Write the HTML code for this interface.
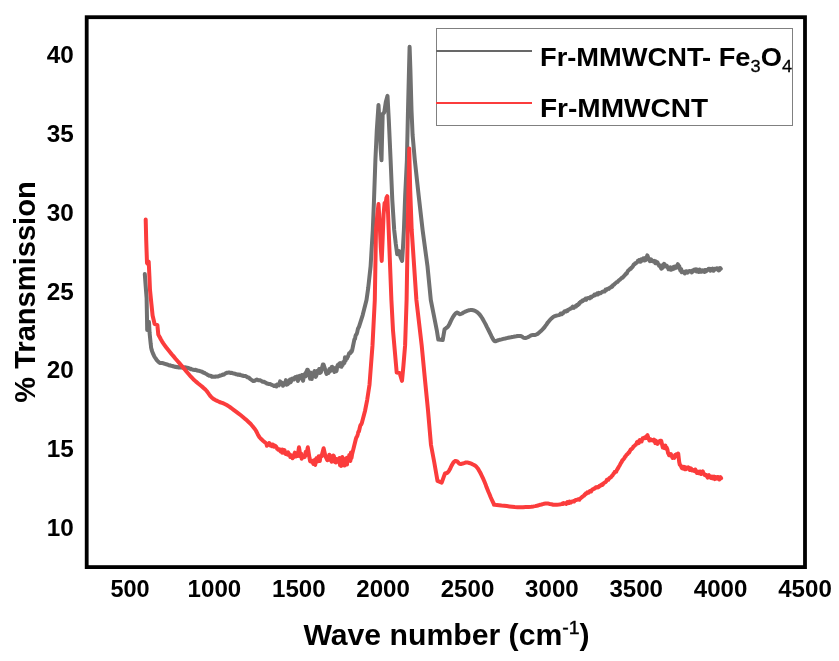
<!DOCTYPE html>
<html><head><meta charset="utf-8"><title>FTIR</title>
<style>html,body{margin:0;padding:0;background:#fff}svg{display:block;will-change:transform}text{font-family:"Liberation Sans",Arial,Helvetica,sans-serif;font-weight:bold;fill:#000}</style>
</head><body>
<svg width="839" height="661" viewBox="0 0 839 661">
<rect width="839" height="661" fill="#fff"/>
<rect x="86.7" y="17.2" width="718.3" height="549.9" fill="none" stroke="#000" stroke-width="3.8"/>
<path d="M144.8,274.0 L145.6,285.0 L146.6,298.0 L147.0,318.0 L147.2,330.0 L148.0,327.0 L149.0,322.0 L149.6,333.0 L150.6,343.0 L150.7,343.9 L150.9,345.3 L151.0,346.8 L151.3,348.5 L151.7,350.0 L152.2,351.5 L152.8,353.1 L153.5,354.7 L154.2,356.2 L155.0,357.5 L155.8,358.7 L156.6,359.9 L157.5,360.9 L158.4,361.8 L159.2,362.5 L160.0,362.9 L160.7,363.0 L161.4,363.0 L162.2,363.1 L163.0,363.2 L163.9,363.5 L164.9,363.8 L165.9,364.2 L166.5,364.3 L167.0,364.6 L167.7,364.5 L168.3,365.0 L169.0,365.3 L169.8,365.4 L170.3,365.3 L170.9,365.8 L171.4,365.9 L172.0,366.0 L172.6,365.9 L173.2,366.4 L173.8,366.6 L174.4,366.4 L175.0,366.9 L175.6,366.9 L176.1,366.7 L176.7,367.2 L177.3,366.9 L177.8,367.2 L178.4,367.4 L178.9,367.6 L179.5,367.1 L180.0,367.4 L180.6,367.1 L181.1,367.4 L181.7,367.3 L182.2,367.7 L182.8,367.4 L183.3,367.3 L183.9,367.3 L184.4,367.8 L185.0,367.5 L185.6,367.2 L186.1,368.0 L186.7,367.8 L187.2,367.8 L187.8,367.8 L188.3,368.3 L188.9,368.1 L189.4,368.4 L190.0,368.7 L190.5,369.2 L191.1,368.8 L191.6,369.2 L192.2,369.5 L192.7,369.7 L193.3,369.7 L193.9,369.7 L194.4,370.0 L195.0,370.1 L195.5,369.8 L196.1,369.9 L196.7,370.4 L197.2,370.3 L197.8,370.8 L198.3,370.8 L198.9,370.8 L199.5,370.9 L200.0,371.2 L200.6,371.4 L201.1,371.5 L201.7,371.7 L202.3,371.8 L202.8,372.4 L203.4,372.4 L204.0,372.9 L204.6,372.8 L205.1,373.3 L205.7,373.7 L206.3,374.0 L206.9,374.3 L207.7,375.0 L208.5,375.2 L209.3,375.7 L210.0,375.8 L210.6,375.8 L211.3,376.2 L211.9,376.8 L212.4,376.5 L213.5,376.7 L214.6,376.8 L215.2,376.4 L215.8,376.7 L216.5,376.5 L217.2,376.5 L218.0,376.5 L218.8,376.1 L219.6,375.6 L220.4,375.7 L221.2,375.4 L221.9,375.2 L222.6,374.6 L223.3,374.7 L223.9,374.6 L224.4,374.2 L225.3,373.6 L226.2,373.1 L227.1,372.7 L227.7,372.8 L228.3,372.5 L229.0,372.6 L229.7,372.6 L230.5,373.0 L231.3,372.9 L231.9,372.8 L232.5,373.3 L233.1,373.3 L233.7,373.5 L234.3,373.7 L234.9,373.7 L235.5,373.9 L236.1,374.3 L236.7,374.2 L237.4,374.7 L238.0,374.5 L238.7,374.6 L239.4,374.9 L240.0,374.6 L240.7,375.1 L241.5,375.4 L242.2,375.5 L242.9,375.5 L243.5,376.1 L244.2,376.1 L244.9,376.1 L245.5,376.1 L246.1,376.4 L246.7,376.7 L247.5,377.3 L248.3,377.5 L249.0,377.7 L249.7,378.6 L250.3,379.0 L251.0,379.6 L251.6,379.8 L252.2,380.5 L252.7,380.4 L253.3,381.0 L254.2,381.0 L254.9,380.7 L255.5,380.2 L256.3,379.8 L256.9,379.5 L257.5,379.8 L258.3,380.2 L259.1,380.2 L259.8,380.2 L260.5,380.5 L261.1,380.9 L261.9,381.1 L262.6,381.8 L263.3,381.8 L264.0,381.7 L264.8,382.3 L265.5,382.6 L266.2,382.9 L266.8,383.5 L267.5,383.4 L268.2,383.9 L268.8,384.1 L269.5,384.1 L270.2,384.1 L270.9,384.5 L271.6,384.8 L272.2,384.9 L272.9,385.5 L273.5,385.4 L274.1,386.0 L274.6,385.5 L275.2,386.0 L275.8,385.9 L276.4,386.4 L277.0,384.5 L277.6,384.2 L278.2,385.2 L278.9,385.4 L279.5,383.3 L280.1,381.4 L280.7,383.4 L281.3,383.5 L281.9,382.7 L282.5,383.6 L283.0,385.7 L283.6,384.1 L284.2,383.0 L284.8,383.5 L285.3,383.7 L285.9,380.1 L286.5,384.7 L287.1,383.9 L287.6,384.3 L288.2,383.8 L288.8,381.4 L289.4,381.3 L289.9,379.5 L290.5,382.4 L291.1,381.5 L291.7,378.8 L292.2,378.6 L292.8,379.2 L293.4,378.8 L293.9,379.5 L294.5,377.7 L295.1,377.2 L295.6,377.8 L296.2,377.3 L296.7,378.6 L297.3,376.5 L297.9,381.0 L298.4,379.4 L299.0,378.5 L299.6,375.9 L300.2,376.4 L300.8,376.9 L301.4,376.8 L302.0,375.0 L302.5,379.9 L303.1,380.7 L303.7,376.8 L304.3,376.8 L304.9,373.8 L305.5,376.5 L306.1,372.0 L306.6,372.0 L307.2,369.8 L307.8,369.7 L309.5,376.5 L310.1,378.7 L310.6,373.8 L311.1,372.7 L311.7,379.1 L312.2,375.9 L312.8,375.6 L313.4,372.7 L314.0,375.1 L314.5,371.1 L315.1,374.2 L315.7,376.9 L316.3,375.7 L316.8,374.2 L317.4,370.7 L318.0,372.0 L318.6,370.7 L319.2,369.0 L319.8,372.9 L320.3,370.9 L320.9,372.3 L321.5,370.0 L322.2,367.0 L322.9,364.4 L323.6,364.5 L325.5,370.5 L326.1,372.7 L326.6,374.0 L327.2,373.1 L327.7,372.9 L328.3,373.0 L328.8,372.5 L329.4,369.0 L329.9,371.1 L330.5,371.0 L331.1,369.7 L331.6,367.1 L332.2,366.8 L332.7,368.2 L333.3,367.8 L333.8,370.5 L334.4,372.0 L335.0,368.2 L335.5,371.3 L336.1,371.3 L336.6,370.8 L337.2,366.4 L337.7,365.1 L338.3,366.7 L338.9,364.3 L339.5,363.5 L340.1,363.0 L340.8,365.4 L341.4,366.8 L342.0,363.5 L342.6,365.2 L343.2,362.0 L343.8,362.6 L344.4,362.9 L345.0,357.2 L345.6,360.6 L346.2,358.8 L346.8,358.8 L347.4,357.5 L348.0,356.5 L348.6,354.9 L349.2,353.2 L349.8,353.0 L350.4,353.1 L351.0,351.3 L351.5,351.8 L352.1,350.5 L354.4,339.3 L355.0,338.9 L355.5,336.0 L356.1,334.5 L356.6,334.3 L357.2,332.3 L357.8,329.4 L358.3,327.8 L358.9,327.2 L362.7,315.1 L366.5,300.0 L368.2,288.1 L370.6,266.3 L372.8,230.0 L374.0,200.0 L375.4,160.0 L376.8,130.0 L378.5,105.0 L379.6,125.0 L380.6,148.0 L381.5,160.2 L382.0,140.0 L382.7,114.0 L384.2,112.5 L385.8,102.0 L387.5,95.9 L388.8,120.0 L390.6,160.0 L392.3,200.0 L394.2,230.0 L395.8,244.0 L397.2,254.2 L399.0,251.0 L400.6,257.5 L402.1,260.9 L403.0,247.0 L403.9,230.0 L405.2,195.0 L406.9,160.0 L408.0,110.0 L409.0,70.0 L409.6,46.8 L410.4,70.0 L411.5,110.0 L412.6,135.0 L414.8,160.0 L418.6,195.0 L422.6,230.0 L427.5,266.3 L430.8,300.0 L433.8,315.1 L436.8,330.3 L438.3,339.6 L442.7,340.1 L444.6,329.2 L445.1,328.8 L445.8,328.4 L446.7,327.7 L447.6,326.9 L448.4,325.9 L449.2,324.5 L450.1,322.8 L450.9,320.9 L451.8,319.1 L452.6,317.6 L453.4,316.3 L454.3,315.0 L455.1,314.0 L455.9,313.1 L456.7,312.6 L457.4,312.6 L458.0,313.0 L458.7,313.5 L459.3,314.0 L460.1,314.2 L461.0,313.9 L462.0,313.5 L463.0,312.8 L464.1,312.2 L465.1,311.7 L466.1,311.3 L467.1,310.9 L468.1,310.5 L469.1,310.3 L470.1,310.1 L471.1,310.1 L472.1,310.1 L473.1,310.2 L474.1,310.5 L475.1,310.9 L476.1,311.5 L477.1,312.1 L478.1,313.0 L479.1,313.9 L480.1,315.1 L481.1,316.5 L482.1,318.0 L483.1,319.8 L484.1,321.6 L485.1,323.4 L486.1,325.3 L487.1,327.4 L488.2,329.5 L489.2,331.5 L490.1,333.4 L491.0,335.2 L491.8,337.0 L492.7,338.6 L493.5,340.0 L494.3,340.9 L495.1,341.3 L495.8,341.2 L496.5,340.9 L497.4,340.5 L498.5,340.1 L499.9,339.8 L501.6,339.4 L503.4,338.9 L505.2,338.5 L506.8,338.1 L508.2,337.8 L509.6,337.5 L510.9,337.3 L512.2,337.0 L513.5,336.8 L514.9,336.5 L516.3,336.3 L517.6,336.0 L519.0,335.9 L520.2,335.9 L521.3,336.2 L522.2,336.8 L523.2,337.4 L524.1,337.9 L525.2,338.1 L526.5,337.8 L527.8,337.2 L529.3,336.4 L530.6,335.6 L531.9,335.1 L533.0,334.9 L533.9,334.9 L534.9,334.9 L535.8,334.8 L536.9,334.3 L538.1,333.5 L539.5,332.3 L540.9,331.1 L542.3,329.7 L543.5,328.4 L544.6,327.1 L545.6,325.7 L546.6,324.3 L547.5,322.9 L548.5,321.7 L549.5,320.5 L550.5,319.4 L551.5,318.4 L552.5,317.5 L553.6,316.7 L554.8,316.1 L556.1,315.7 L557.4,315.4 L558.7,315.1 L560.0,314.6 L560.6,313.6 L561.3,313.9 L561.9,314.2 L562.6,313.1 L563.2,313.2 L563.9,312.2 L564.6,311.2 L565.3,311.4 L566.0,311.5 L566.7,310.5 L567.5,311.0 L568.3,309.7 L569.1,309.6 L569.9,308.9 L570.5,308.4 L571.0,308.5 L571.6,308.1 L572.2,307.2 L572.7,306.7 L573.3,307.2 L573.9,307.8 L574.4,306.9 L575.0,306.3 L575.6,306.0 L576.1,306.4 L576.7,305.2 L577.2,304.7 L577.8,305.1 L578.4,304.0 L578.9,304.2 L579.5,302.7 L580.0,302.8 L580.6,301.9 L581.2,301.6 L581.7,301.6 L582.3,300.7 L582.8,301.0 L583.4,300.5 L584.0,299.8 L584.5,299.7 L585.1,299.6 L585.6,298.7 L586.2,299.8 L586.7,298.8 L587.3,298.3 L587.8,298.2 L588.4,298.0 L588.9,298.0 L589.5,298.3 L590.0,297.3 L590.6,296.9 L591.1,297.6 L591.7,296.6 L592.3,296.4 L592.8,296.2 L593.4,295.9 L593.9,295.7 L594.5,294.5 L595.1,295.2 L595.6,294.8 L596.2,294.1 L596.7,294.5 L597.3,293.3 L597.9,294.5 L598.4,293.8 L599.0,292.9 L599.5,293.2 L600.1,293.0 L600.7,293.2 L601.2,292.6 L601.8,292.2 L602.3,291.7 L602.9,291.8 L603.4,291.5 L604.0,291.3 L604.5,291.5 L605.1,290.7 L605.6,289.7 L606.2,290.2 L606.7,289.8 L607.3,289.0 L607.8,288.7 L608.4,288.8 L609.0,288.9 L609.5,288.0 L610.1,287.6 L610.7,287.3 L611.3,287.2 L611.8,286.3 L612.4,286.5 L613.0,285.2 L613.6,284.8 L614.1,284.6 L614.7,283.9 L615.2,283.4 L616.0,282.8 L616.8,282.1 L617.5,281.9 L618.3,280.9 L618.9,280.3 L619.6,279.8 L620.3,279.3 L620.9,278.7 L621.6,278.1 L622.2,277.6 L622.8,277.7 L623.5,276.3 L624.2,276.0 L624.8,274.9 L625.5,274.8 L626.1,273.4 L626.8,273.4 L627.5,271.8 L628.1,270.6 L628.8,270.3 L629.4,269.6 L630.1,268.8 L630.8,268.9 L631.5,267.4 L632.3,267.2 L633.1,265.9 L633.8,264.5 L634.6,264.5 L635.2,263.2 L635.9,263.3 L636.8,262.5 L637.4,262.0 L637.9,260.7 L638.5,260.9 L639.0,260.1 L639.6,261.6 L640.1,261.7 L640.7,261.7 L641.2,259.2 L641.8,260.0 L642.3,260.5 L642.9,260.1 L643.5,258.4 L644.0,260.4 L644.5,260.5 L645.1,258.1 L645.7,260.1 L646.2,258.6 L647.3,255.4 L648.0,257.0 L648.6,259.2 L649.2,259.4 L649.8,261.2 L650.4,261.1 L651.0,259.3 L651.7,260.4 L652.3,261.0 L652.9,260.7 L653.5,261.5 L654.1,260.9 L654.6,261.6 L655.2,263.1 L655.8,261.3 L656.3,263.2 L656.9,263.2 L657.4,262.2 L658.0,264.0 L658.6,264.2 L659.1,265.8 L659.7,266.2 L660.2,265.6 L660.8,267.6 L661.4,268.7 L661.9,267.7 L662.5,267.8 L663.0,264.8 L663.6,264.9 L664.1,263.8 L664.7,264.8 L665.4,266.3 L666.0,265.4 L666.7,265.6 L667.3,267.1 L668.0,268.0 L668.6,269.3 L669.1,269.2 L669.7,267.6 L670.3,267.3 L670.9,269.8 L671.4,268.8 L672.0,268.7 L672.6,269.1 L673.1,267.2 L673.7,266.9 L674.2,268.6 L674.8,267.7 L675.3,266.5 L675.9,267.6 L676.6,267.8 L677.2,265.7 L677.9,264.2 L678.5,266.6 L679.2,266.0 L679.8,268.7 L680.4,270.6 L681.1,269.0 L681.8,272.3 L682.4,272.0 L683.0,271.9 L683.6,271.7 L684.2,272.4 L684.8,273.5 L685.3,271.6 L685.9,271.3 L686.5,272.5 L687.1,271.7 L687.7,272.6 L688.3,271.3 L688.8,271.3 L689.4,270.9 L690.0,271.2 L690.5,271.4 L691.1,271.2 L691.7,272.5 L692.2,270.9 L692.8,271.4 L693.3,270.3 L693.9,270.7 L694.5,269.6 L695.0,270.2 L695.6,270.8 L696.2,269.3 L696.7,271.5 L697.3,270.9 L697.8,269.8 L698.4,270.7 L698.9,272.0 L699.5,269.5 L700.1,271.6 L700.6,270.5 L701.2,270.6 L701.7,271.6 L702.3,270.3 L702.8,270.6 L703.4,270.6 L704.0,271.1 L704.5,272.0 L705.1,270.0 L705.7,271.4 L706.2,271.0 L706.8,270.8 L707.3,270.0 L707.9,269.8 L708.5,268.9 L709.0,269.1 L709.6,268.8 L710.2,270.8 L710.7,269.3 L711.3,270.0 L711.9,268.9 L712.4,268.6 L713.0,270.8 L713.5,270.8 L714.1,270.2 L714.7,268.9 L715.2,268.7 L715.8,268.8 L716.3,269.2 L716.9,268.3 L717.4,269.1 L718.0,268.4 L718.6,270.5 L719.1,270.4 L719.7,269.1 L720.2,268.1 L720.8,268.8" fill="none" stroke="#707070" stroke-width="4.0" stroke-linejoin="round" stroke-linecap="round"/>
<path d="M145.7,219.6 L146.2,240.0 L147.0,263.0 L148.0,264.0 L148.7,261.7 L149.4,276.0 L150.0,290.0 L151.3,303.0 L152.6,315.5 L154.6,324.0 L157.4,325.2 L158.3,334.5 L158.9,335.7 L159.8,337.3 L160.8,339.2 L162.0,341.3 L163.3,343.3 L164.7,345.3 L166.3,347.5 L168.1,349.7 L169.9,351.9 L171.7,354.2 L173.6,356.4 L175.5,358.7 L177.5,361.0 L179.6,363.4 L181.7,365.8 L183.9,368.4 L186.2,371.2 L188.6,374.0 L190.9,376.7 L193.3,379.2 L195.7,381.4 L198.2,383.5 L200.7,385.5 L203.0,387.4 L205.0,389.2 L206.7,391.0 L208.1,392.9 L209.3,394.6 L210.5,396.2 L211.7,397.5 L212.9,398.5 L214.1,399.3 L215.3,400.0 L216.6,400.6 L218.0,401.3 L219.5,402.0 L221.2,402.6 L222.9,403.2 L224.7,404.0 L226.7,405.0 L228.9,406.4 L231.2,408.0 L233.6,409.8 L236.0,411.6 L238.3,413.3 L240.5,415.0 L242.6,416.7 L244.6,418.4 L246.5,420.1 L248.3,421.7 L249.9,423.2 L251.3,424.7 L252.6,426.2 L253.8,427.7 L255.0,429.2 L256.0,430.8 L256.9,432.5 L257.7,434.2 L258.6,435.9 L259.7,437.5 L261.2,439.1 L263.0,440.7 L264.8,442.2 L266.4,443.5 L266.9,445.8 L267.5,444.4 L268.1,443.9 L268.6,444.3 L269.2,443.1 L269.7,444.9 L270.3,445.5 L270.9,445.8 L271.4,444.8 L272.0,446.3 L272.6,444.5 L273.1,445.8 L273.7,445.3 L274.2,446.8 L274.8,445.6 L275.4,445.8 L275.9,447.1 L276.5,447.1 L277.1,448.7 L277.6,448.7 L278.2,449.8 L278.7,449.7 L279.3,449.3 L279.9,450.5 L280.5,451.4 L281.0,449.7 L281.6,449.8 L282.2,452.7 L282.8,449.6 L283.4,452.2 L284.0,452.2 L284.5,450.1 L285.1,453.5 L285.7,454.0 L286.3,453.3 L286.9,454.0 L287.5,454.6 L288.0,452.2 L288.6,454.0 L289.2,454.2 L289.8,454.4 L290.3,457.0 L290.9,457.0 L291.5,457.3 L292.0,455.8 L292.6,458.2 L293.2,456.9 L293.7,457.1 L294.3,454.0 L294.9,452.7 L295.4,453.7 L296.0,456.5 L296.8,455.2 L297.6,456.0 L299.0,447.3 L300.6,456.5 L301.2,453.6 L301.7,458.8 L302.3,456.7 L302.9,457.1 L303.4,457.0 L304.0,456.0 L304.6,457.1 L305.1,455.4 L305.7,451.7 L306.3,455.0 L307.8,447.3 L309.5,458.0 L310.1,461.0 L310.8,461.5 L311.4,460.6 L312.0,461.5 L312.7,462.4 L313.4,463.9 L314.0,460.3 L314.7,464.0 L315.2,464.9 L315.8,460.5 L316.4,458.4 L316.9,459.0 L317.4,461.5 L318.0,459.0 L318.6,456.4 L319.2,459.7 L319.8,460.9 L320.4,457.0 L321.0,455.7 L321.6,456.0 L323.6,448.3 L325.6,457.0 L326.2,457.1 L326.8,459.2 L327.4,460.2 L328.1,459.1 L328.7,459.6 L329.3,454.7 L329.9,455.6 L330.5,459.1 L331.1,457.0 L331.6,461.7 L332.2,457.8 L332.7,460.4 L333.3,455.5 L333.8,456.1 L334.4,458.2 L335.0,462.1 L335.5,462.4 L336.1,462.4 L336.6,459.1 L337.2,461.3 L337.7,461.0 L338.3,461.5 L338.9,461.2 L339.4,458.0 L340.0,465.1 L340.6,458.7 L341.1,465.9 L341.7,465.5 L342.3,457.1 L342.9,461.1 L343.4,464.4 L344.0,461.5 L344.6,465.6 L345.2,460.6 L345.8,458.7 L346.4,458.0 L347.0,464.5 L347.6,457.6 L348.2,460.0 L348.8,459.9 L349.3,455.0 L349.9,457.7 L350.4,460.9 L351.0,452.5 L351.5,458.0 L352.1,454.2 L356.0,438.5 L356.6,437.0 L357.2,436.3 L357.8,434.3 L358.4,431.6 L358.9,431.6 L359.5,429.0 L360.1,426.4 L360.7,424.7 L361.3,424.4 L361.9,422.8 L365.0,411.0 L367.2,399.8 L369.5,384.7 L372.5,345.4 L374.8,300.0 L376.0,230.0 L377.4,214.0 L378.5,204.1 L379.6,222.0 L380.8,248.0 L381.7,260.9 L382.6,240.0 L383.6,214.0 L384.6,203.0 L385.6,204.0 L386.4,198.0 L387.3,196.2 L388.0,212.0 L388.7,230.0 L391.4,300.0 L393.0,330.3 L396.7,372.6 L399.6,373.0 L402.0,380.9 L403.4,366.0 L405.1,345.4 L406.6,300.0 L407.6,240.0 L408.4,190.0 L409.2,148.6 L410.2,190.0 L411.7,230.0 L416.4,300.0 L421.7,345.4 L425.0,380.0 L428.0,410.3 L431.0,445.0 L434.2,462.0 L437.5,480.9 L441.7,482.6 L445.0,473.4 L445.4,473.3 L446.0,473.2 L446.8,473.0 L447.6,472.5 L448.4,471.7 L449.3,470.2 L450.4,468.2 L451.4,466.0 L452.5,464.0 L453.4,462.5 L454.2,461.7 L454.8,461.2 L455.4,461.0 L456.0,461.1 L456.7,461.2 L457.4,461.6 L458.0,462.2 L458.6,463.0 L459.4,463.6 L460.3,464.0 L461.4,463.9 L462.7,463.5 L464.0,463.1 L465.4,462.6 L466.7,462.5 L468.0,462.6 L469.3,463.0 L470.6,463.4 L471.9,463.9 L473.0,464.5 L474.0,465.0 L474.9,465.5 L475.8,466.1 L476.6,467.0 L477.6,468.2 L478.7,469.9 L479.9,472.0 L481.1,474.3 L482.3,476.8 L483.4,479.2 L484.4,481.6 L485.5,484.2 L486.4,486.8 L487.4,489.3 L488.4,491.8 L489.5,494.3 L490.6,497.0 L491.7,499.5 L492.7,501.7 L493.5,503.4 L493.9,504.3 L493.9,504.7 L493.9,504.7 L494.2,504.7 L495.1,504.8 L496.8,505.1 L499.0,505.3 L501.5,505.6 L504.2,505.8 L506.8,506.1 L509.4,506.4 L512.0,506.7 L514.8,507.0 L517.5,507.2 L520.2,507.3 L523.0,507.3 L525.8,507.1 L528.7,506.9 L531.3,506.7 L533.5,506.4 L535.3,506.1 L536.7,505.8 L537.8,505.5 L539.0,505.1 L540.2,504.8 L541.5,504.5 L542.8,504.1 L544.1,503.8 L545.5,503.6 L546.9,503.5 L548.4,503.6 L549.9,504.0 L551.6,504.3 L553.2,504.7 L555.0,504.8 L556.9,504.7 L558.9,504.5 L561.0,504.2 L561.7,504.0 L562.4,503.6 L563.1,503.9 L563.7,503.1 L564.4,503.3 L565.0,503.5 L565.6,503.0 L566.2,503.8 L566.8,503.1 L567.4,502.0 L568.0,503.2 L568.6,502.6 L569.1,503.0 L569.7,501.5 L570.2,502.1 L571.0,502.6 L571.9,501.5 L572.6,501.6 L573.4,501.0 L574.1,501.5 L574.9,500.5 L575.5,500.0 L576.2,500.1 L576.9,499.7 L577.5,499.7 L578.2,499.2 L578.8,499.2 L579.4,499.7 L580.1,498.5 L580.8,498.2 L581.4,497.6 L582.1,496.9 L582.7,496.6 L583.4,496.0 L584.1,495.6 L584.7,494.6 L585.4,494.5 L586.0,493.2 L586.7,493.5 L587.3,492.4 L588.0,492.6 L588.6,492.8 L589.2,491.8 L589.8,491.1 L590.5,491.1 L591.2,491.4 L591.8,490.2 L592.6,489.3 L593.4,489.3 L594.0,488.5 L594.6,488.6 L595.2,488.2 L595.9,487.3 L596.6,487.2 L597.3,487.1 L598.0,487.5 L598.8,486.9 L599.5,485.8 L600.2,486.0 L600.9,485.2 L601.6,484.6 L602.2,484.9 L602.8,484.6 L603.4,483.4 L604.2,482.9 L605.0,482.3 L605.6,482.1 L606.3,481.2 L606.9,479.8 L607.6,480.0 L608.2,479.9 L608.8,478.9 L609.5,478.1 L610.1,477.6 L610.8,477.4 L611.5,476.2 L612.2,475.8 L612.9,474.8 L613.6,473.6 L614.2,473.2 L614.9,471.7 L615.6,471.7 L616.2,471.7 L616.8,470.1 L617.9,468.5 L618.8,466.8 L619.8,465.2 L620.7,463.4 L621.8,461.7 L622.4,460.1 L623.0,459.9 L623.7,458.9 L624.4,458.0 L625.0,456.8 L625.7,456.2 L626.4,454.9 L627.1,454.3 L627.8,453.9 L628.5,452.6 L629.2,452.6 L629.9,450.9 L630.7,449.5 L631.5,449.1 L632.3,448.5 L633.0,447.4 L633.6,446.4 L634.3,446.0 L635.2,445.0 L635.8,444.7 L636.4,443.6 L636.9,442.4 L637.5,441.9 L638.1,441.5 L638.7,443.2 L639.2,441.4 L639.8,440.0 L640.4,440.4 L641.0,441.5 L641.6,441.5 L642.1,439.5 L642.7,438.3 L643.3,438.2 L643.9,437.7 L644.5,438.2 L645.0,437.2 L645.6,437.4 L646.2,438.0 L646.9,435.8 L647.5,435.2 L648.1,437.3 L648.8,439.0 L649.4,440.5 L650.0,440.3 L650.6,439.4 L651.2,439.7 L651.8,440.3 L652.4,440.0 L653.0,440.1 L653.6,440.9 L654.2,439.7 L654.8,440.7 L655.3,443.1 L655.9,440.7 L656.5,442.2 L657.1,442.8 L657.6,443.8 L658.2,442.9 L658.8,441.6 L659.4,441.3 L660.0,440.8 L660.6,440.9 L661.2,440.8 L662.8,447.5 L663.4,446.9 L664.1,448.0 L664.8,447.2 L665.4,445.6 L666.0,448.6 L666.7,447.7 L667.4,449.5 L668.0,452.8 L668.6,454.0 L669.1,455.2 L669.7,454.4 L670.3,455.3 L670.9,454.0 L671.4,455.8 L672.0,456.7 L672.6,458.0 L673.1,457.6 L673.7,457.6 L674.2,457.9 L674.8,455.5 L675.3,454.9 L675.9,456.1 L676.5,454.4 L677.0,454.9 L677.6,454.8 L678.2,453.6 L679.2,462.0 L679.8,464.7 L680.5,465.3 L681.1,466.4 L681.8,468.0 L682.4,468.5 L683.0,468.3 L683.5,468.5 L684.1,466.8 L684.7,469.1 L685.3,467.2 L685.8,469.3 L686.4,467.9 L687.0,468.6 L687.6,467.7 L688.2,467.4 L688.8,468.1 L689.4,469.5 L689.9,470.0 L690.5,468.3 L691.1,468.4 L691.7,470.1 L692.3,470.5 L692.9,470.5 L693.5,470.3 L694.1,469.9 L694.7,471.3 L695.3,469.5 L695.8,470.6 L696.4,471.2 L697.0,473.0 L697.6,472.1 L698.2,471.8 L698.8,473.2 L699.4,472.0 L699.9,471.4 L700.5,471.6 L701.1,474.0 L701.7,473.3 L702.2,472.2 L702.8,471.4 L703.4,473.1 L704.0,473.7 L704.7,475.0 L705.4,474.8 L706.0,475.7 L706.6,475.1 L707.2,476.6 L707.8,477.6 L708.4,475.6 L708.9,475.2 L709.5,476.3 L710.1,476.8 L710.7,477.8 L711.3,477.4 L711.9,476.5 L712.5,478.4 L713.0,478.3 L713.6,477.5 L714.2,476.6 L714.8,479.1 L715.3,477.0 L715.9,478.7 L716.5,477.7 L717.1,476.9 L717.6,477.0 L718.2,478.8 L718.8,477.3 L719.4,479.5 L720.0,478.1 L720.5,477.2 L721.1,478.3" fill="none" stroke="#fb3c3c" stroke-width="4.0" stroke-linejoin="round" stroke-linecap="round"/>
<text x="73.8" y="535.8" text-anchor="end" font-size="23.5" textLength="27" lengthAdjust="spacingAndGlyphs">10</text>
<text x="73.8" y="457.1" text-anchor="end" font-size="23.5" textLength="27" lengthAdjust="spacingAndGlyphs">15</text>
<text x="73.8" y="378.3" text-anchor="end" font-size="23.5" textLength="27" lengthAdjust="spacingAndGlyphs">20</text>
<text x="73.8" y="299.6" text-anchor="end" font-size="23.5" textLength="27" lengthAdjust="spacingAndGlyphs">25</text>
<text x="73.8" y="220.8" text-anchor="end" font-size="23.5" textLength="27" lengthAdjust="spacingAndGlyphs">30</text>
<text x="73.8" y="142.1" text-anchor="end" font-size="23.5" textLength="27" lengthAdjust="spacingAndGlyphs">35</text>
<text x="73.8" y="63.3" text-anchor="end" font-size="23.5" textLength="27" lengthAdjust="spacingAndGlyphs">40</text>
<text x="130.0" y="597.1" text-anchor="middle" font-size="23.5" textLength="39.2" lengthAdjust="spacingAndGlyphs">500</text>
<text x="214.4" y="597.1" text-anchor="middle" font-size="23.5" textLength="53.6" lengthAdjust="spacingAndGlyphs">1000</text>
<text x="298.8" y="597.1" text-anchor="middle" font-size="23.5" textLength="53.6" lengthAdjust="spacingAndGlyphs">1500</text>
<text x="383.1" y="597.1" text-anchor="middle" font-size="23.5" textLength="53.6" lengthAdjust="spacingAndGlyphs">2000</text>
<text x="467.5" y="597.1" text-anchor="middle" font-size="23.5" textLength="53.6" lengthAdjust="spacingAndGlyphs">2500</text>
<text x="551.9" y="597.1" text-anchor="middle" font-size="23.5" textLength="53.6" lengthAdjust="spacingAndGlyphs">3000</text>
<text x="636.2" y="597.1" text-anchor="middle" font-size="23.5" textLength="53.6" lengthAdjust="spacingAndGlyphs">3500</text>
<text x="720.6" y="597.1" text-anchor="middle" font-size="23.5" textLength="53.6" lengthAdjust="spacingAndGlyphs">4000</text>
<text x="805.0" y="597.1" text-anchor="middle" font-size="23.5" textLength="53.6" lengthAdjust="spacingAndGlyphs">4500</text>
<text x="303.4" y="645.3" font-size="28.7" textLength="286.3" lengthAdjust="spacingAndGlyphs">Wave number (cm<tspan font-size="18.5" font-weight="normal" stroke="#000" stroke-width="0.4" dy="-11.5">-1</tspan><tspan dy="11.5">)</tspan></text>
<text transform="translate(34.8,402.8) rotate(-90)" font-size="29.3" textLength="221.5" lengthAdjust="spacingAndGlyphs">% Transmission</text>
<rect x="436.5" y="28.5" width="356" height="97" fill="#fff" stroke="#808080" stroke-width="1"/>
<line x1="436" y1="51" x2="532" y2="51" stroke="#686868" stroke-width="2"/>
<line x1="436" y1="103" x2="532" y2="103" stroke="#fb3c3c" stroke-width="2"/>
<text x="540" y="65.6" font-size="25.5" textLength="252" lengthAdjust="spacingAndGlyphs">Fr-MMWCNT- Fe<tspan font-size="17" font-weight="normal" stroke="#000" stroke-width="0.3" dy="6.5">3</tspan><tspan dy="-6.5">O</tspan><tspan font-size="17" font-weight="normal" stroke="#000" stroke-width="0.3" dy="6.5">4</tspan></text>
<text x="540" y="116.6" font-size="25.5" textLength="168" lengthAdjust="spacingAndGlyphs">Fr-MMWCNT</text>
</svg>
</body></html>
